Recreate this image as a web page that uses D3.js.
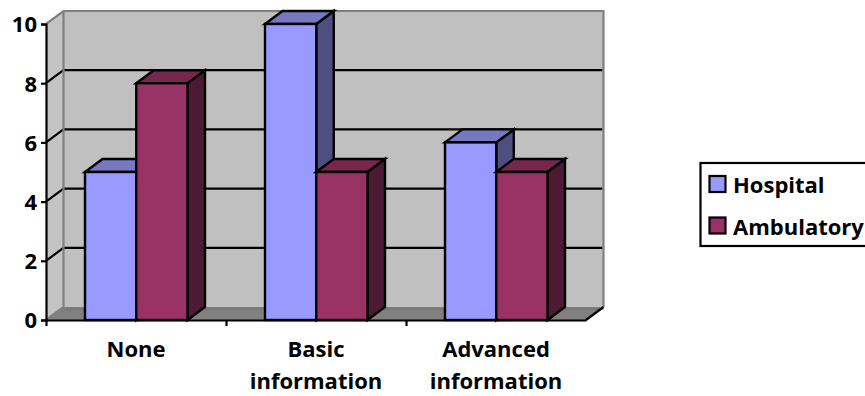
<!DOCTYPE html>
<html>
<head>
<meta charset="utf-8">
<style>
html,body{margin:0;padding:0;background:#fff;overflow:hidden}
svg{display:block}
text{font-family:"Open Sans","Noto Sans",sans-serif;font-weight:700;fill:#000}
</style>
<script src="https://cdn.jsdelivr.net/npm/d3@7/dist/d3.min.js"></script>
</head>
<body>
<svg id="chart" width="865" height="396"></svg>
<script>
const categories = [["None"], ["Basic", "information"], ["Advanced", "information"]];
const seriesNames = ["Hospital", "Ambulatory"];
const hospital = [5, 10, 6];
const ambulatory = [8, 5, 5];
const yTicks = [0, 2, 4, 6, 8, 10];

const palette = {
  Hospital: {front: "#9999ff", top: "#7777c2", side: "#4e4e80"},
  Ambulatory: {front: "#993366", top: "#77274e", side: "#4c1a33"}
};

const svg = d3.select("#chart");
const y = d3.scaleLinear().domain([0, 10]).range([320, 24]);
const x0 = d3.scaleBand().domain(d3.range(3)).range([46, 586]);
const x1 = d3.scaleBand().domain(seriesNames).range([39, 141.5]);
const dx = 17.5, dy = -13;
const [xL, xR] = x0.range();
const poly = pts => pts.map(p => p.join(",")).join(" ");

// Walls and floor of the 3D box
svg.append("polygon").attr("fill", "#c0c0c0")
  .attr("points", poly([[xL + dx, y(10) + dy], [xR + dx, y(10) + dy], [xR + dx, y(0) + dy], [xL + dx, y(0) + dy]]));
svg.append("polygon").attr("fill", "#c4c4c4")
  .attr("points", poly([[xL, y(10)], [xL + dx, y(10) + dy], [xL + dx, y(0) + dy], [xL, y(0)]]));
svg.append("polygon").attr("fill", "#808080")
  .attr("points", poly([[xL, y(0)], [xL + dx, y(0) + dy], [xR + dx, y(0) + dy], [xR, y(0)]]));
svg.append("line").attr("x1", xL + dx).attr("x2", xR + dx)
  .attr("y1", y(0) + dy + 2).attr("y2", y(0) + dy + 2)
  .attr("stroke", "#6e6e6e").attr("stroke-width", 1);

// Gridlines on the side and back walls
const grid = yTicks.filter(t => t > 0 && t < 10);
svg.append("g").selectAll("path").data(grid).join("path")
  .attr("fill", "none").attr("stroke", "#000").attr("stroke-width", 2.2)
  .attr("d", t => `M${xL},${y(t)}L${xL + dx},${y(t) + dy}L${xR + dx - 1},${y(t) + dy}`);

// Wall outline
svg.append("path").attr("fill", "none").attr("stroke", "#808080").attr("stroke-width", 2.2)
  .attr("d", `M${xL},${y(10)}L${xL + dx},${y(10) + dy}L${xR + dx},${y(10) + dy}L${xR + dx},${y(0) + dy}`);
svg.append("path").attr("fill", "none").attr("stroke", "#808080").attr("stroke-width", 2.2)
  .attr("d", `M${xL + dx},${y(10) + dy}V${y(0) + dy}L${xL},${y(0)}`);
// Front-right edge of the floor
svg.append("line").attr("x1", xR).attr("y1", y(0)).attr("x2", xR + dx).attr("y2", y(0) + dy)
  .attr("stroke", "#000").attr("stroke-width", 2.2);

// Bars, each with a front, top and side face
const values = {Hospital: hospital, Ambulatory: ambulatory};
const bars = [];
categories.forEach((c, i) => seriesNames.forEach(s => bars.push({i, s, v: values[s][i]})));
const barG = svg.append("g").selectAll("g").data(bars).join("g")
  .attr("stroke", "#000").attr("stroke-width", 2.4).attr("stroke-linejoin", "miter");
const bx = d => x0(d.i) + x1(d.s);
const bw = x1.bandwidth();
barG.append("polygon").attr("fill", d => palette[d.s].side)
  .attr("points", d => poly([[bx(d) + bw, y(d.v)], [bx(d) + bw + dx, y(d.v) + dy], [bx(d) + bw + dx, y(0) + dy], [bx(d) + bw, y(0)]]));
barG.append("polygon").attr("fill", d => palette[d.s].top)
  .attr("points", d => poly([[bx(d), y(d.v)], [bx(d) + dx, y(d.v) + dy], [bx(d) + bw + dx, y(d.v) + dy], [bx(d) + bw, y(d.v)]]));
barG.append("rect").attr("fill", d => palette[d.s].front)
  .attr("x", bx).attr("y", d => y(d.v)).attr("width", bw).attr("height", d => y(0) - y(d.v));

// Axes
const yAxis = svg.append("g").attr("transform", `translate(${xL},0)`)
  .call(d3.axisLeft(y).tickValues(yTicks).tickSize(5).tickPadding(4).tickFormat(d3.format("d")));
yAxis.selectAll("line,path").attr("stroke", "#000").attr("stroke-width", 2.2);
yAxis.selectAll("text").style("font-size", "22px").attr("font-family", null).attr("dy", "0.36em");

const xAxisScale = d3.scaleLinear().domain([0, 3]).range([xL, xR]);
const xAxis = svg.append("g").attr("transform", `translate(0,${y(0)})`)
  .call(d3.axisBottom(xAxisScale).tickValues([0, 1, 2]).tickSize(6).tickSizeOuter(0).tickFormat(""));
xAxis.selectAll("line,path").attr("stroke", "#000").attr("stroke-width", 2.2);

// Category labels
const labels = svg.append("g").selectAll("text").data(categories).join("text")
  .attr("text-anchor", "middle").style("font-size", "22px");
labels.each(function (lines, i) {
  d3.select(this).selectAll("tspan").data(lines).join("tspan")
    .attr("x", x0(i) + x0.bandwidth() / 2)
    .attr("y", (d, k) => 357 + k * 32)
    .text(d => d);
});

// Legend
const legend = svg.append("g");
legend.append("rect").attr("x", 700.5).attr("y", 163).attr("width", 180).attr("height", 83)
  .attr("fill", "#fff").attr("stroke", "#000").attr("stroke-width", 2.2);
const legendY = d3.scalePoint().domain(seriesNames).range([184.5, 226]);
const items = legend.selectAll("g").data(seriesNames).join("g")
  .attr("transform", s => `translate(0,${legendY(s)})`);
items.append("rect").attr("x", 709.5).attr("y", -8.5).attr("width", 16).attr("height", 16)
  .attr("fill", s => palette[s].front).attr("stroke", "#000").attr("stroke-width", 2.2);
items.append("text").attr("x", 733).attr("y", 8.5).style("font-size", "22px").text(s => s);
</script>
</body>
</html>
